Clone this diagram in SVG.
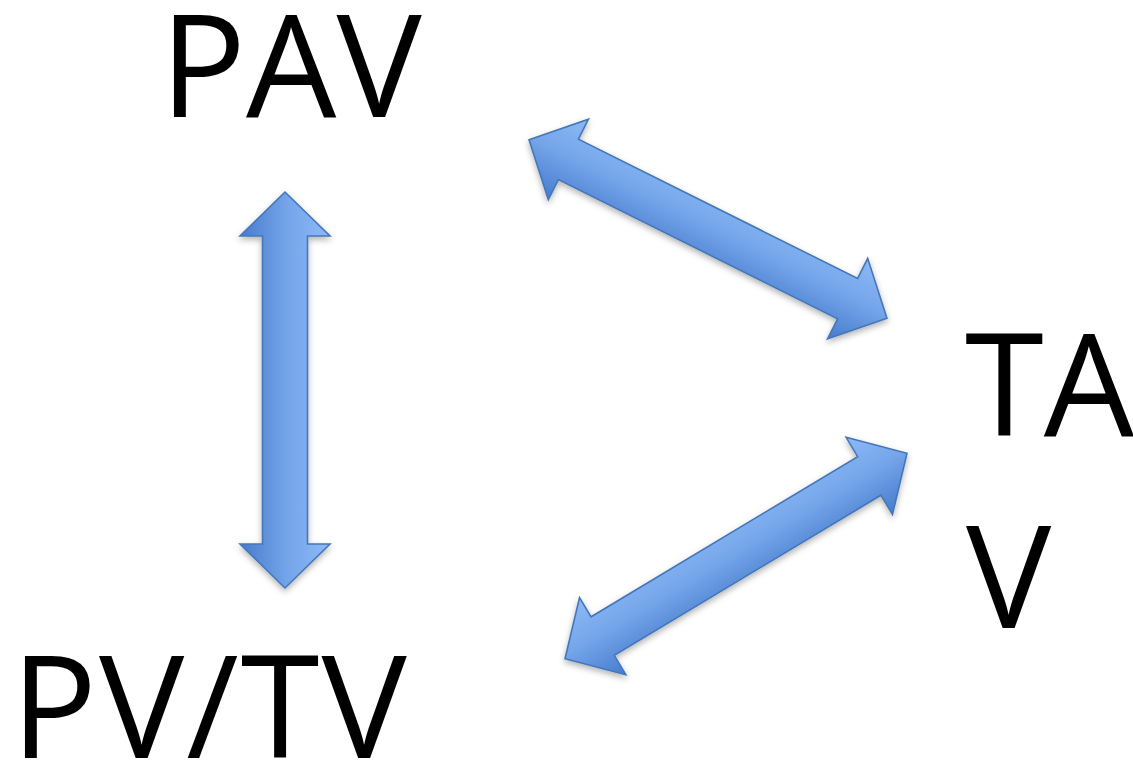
<svg xmlns="http://www.w3.org/2000/svg" width="1133" height="778" viewBox="0 0 1133 778">
  <defs>
    <linearGradient id="grad" x1="0" y1="0" x2="0" y2="1">
      <stop offset="0" stop-color="#8cb9f7"/>
      <stop offset="0.45" stop-color="#76a6ea"/>
      <stop offset="1" stop-color="#467ccd"/>
    </linearGradient>
    <filter id="sh" x="-20%" y="-20%" width="140%" height="140%">
      <feDropShadow dx="0" dy="3" stdDeviation="3" flood-color="#000" flood-opacity="0.3"/>
    </filter>
    <style>
      .lbl { font-family: "Open Sans", "Liberation Sans", sans-serif; font-size: 143px; fill: #000; }
      .arr { fill: url(#grad); stroke: #4577b8; stroke-width: 1.6; stroke-linejoin: miter; }
    </style>
  </defs>
  <rect width="1133" height="778" fill="#fff"/>
  <g id="connectors">
    <g filter="url(#sh)">
      <path class="arr" transform="translate(285,390) rotate(90)" d="M -198,0 L -154,-45 L -154,-22.5 L 154,-22.5 L 154,-45 L 198,0 L 154,45 L 154,22.5 L -154,22.5 L -154,45 Z"/>
    </g>
    <g filter="url(#sh)">
      <path class="arr" transform="translate(708,229) rotate(26.5)" d="M -200,0 L -156,-45 L -156,-22.5 L 156,-22.5 L 156,-45 L 200,0 L 156,45 L 156,22.5 L -156,22.5 L -156,45 Z"/>
    </g>
    <g filter="url(#sh)">
      <path class="arr" transform="translate(736,556) rotate(-31)" d="M -199.5,0 L -155.5,-45 L -155.5,-22.5 L 155.5,-22.5 L 155.5,-45 L 199.5,0 L 155.5,45 L 155.5,22.5 L -155.5,22.5 L -155.5,45 Z"/>
    </g>
  </g>
  <g id="node-pav">
    <text class="lbl" x="160" y="117">PAV</text>
  </g>
  <g id="node-tav">
    <text class="lbl" x="965" y="436">TA</text>
    <text class="lbl" x="966" y="628">V</text>
  </g>
  <g id="node-pvtv">
    <text class="lbl" x="11" y="758" letter-spacing="2">PV/TV</text>
  </g>
</svg>
